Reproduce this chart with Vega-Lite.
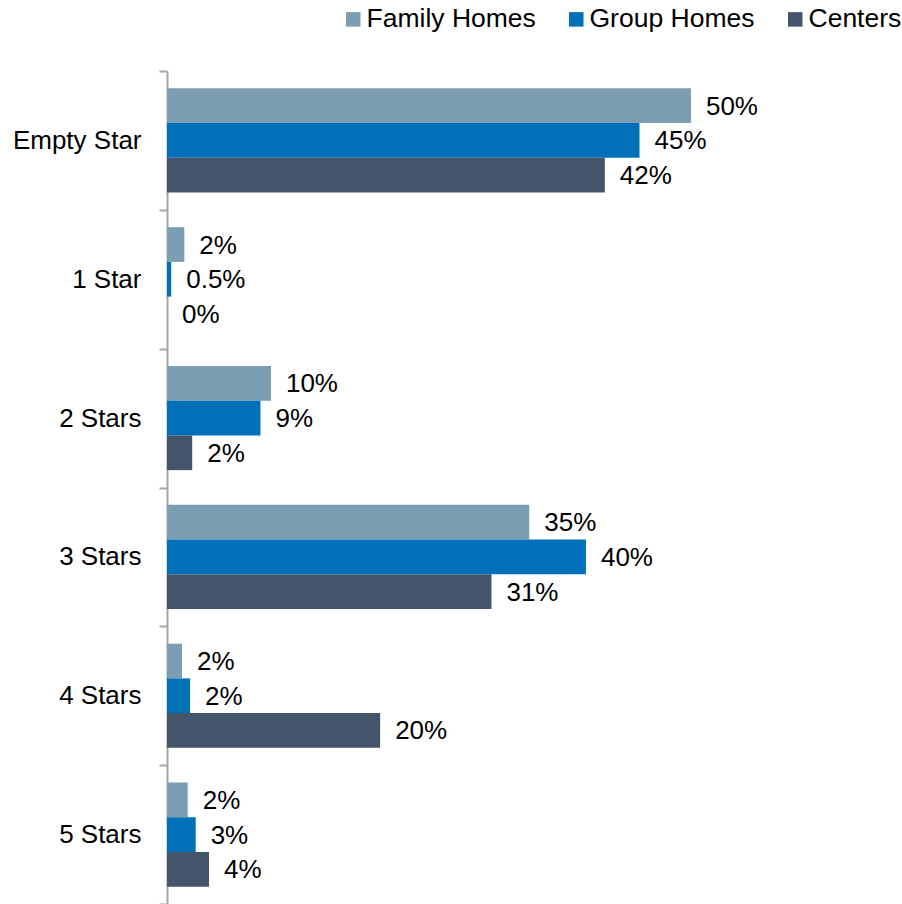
{
  "$schema": "https://vega.github.io/schema/vega-lite/v6.json",
  "autosize": {"type": "none"},
  "padding": {"left": 167, "top": 71, "right": 0, "bottom": 0},
  "width": 735,
  "height": 833,
  "background": "white",
  "config": {
    "view": {"stroke": null},
    "font": "Liberation Sans"
  },
  "data": {
    "values": [
      {"rating": "Empty Star", "type": "Family Homes", "value": 49.9, "label": "50%"},
      {"rating": "Empty Star", "type": "Group Homes", "value": 45.0, "label": "45%"},
      {"rating": "Empty Star", "type": "Centers", "value": 41.7, "label": "42%"},
      {"rating": "1 Star", "type": "Family Homes", "value": 1.65, "label": "2%"},
      {"rating": "1 Star", "type": "Group Homes", "value": 0.4, "label": "0.5%"},
      {"rating": "1 Star", "type": "Centers", "value": 0, "label": "0%"},
      {"rating": "2 Stars", "type": "Family Homes", "value": 9.9, "label": "10%"},
      {"rating": "2 Stars", "type": "Group Homes", "value": 8.9, "label": "9%"},
      {"rating": "2 Stars", "type": "Centers", "value": 2.4, "label": "2%"},
      {"rating": "3 Stars", "type": "Family Homes", "value": 34.5, "label": "35%"},
      {"rating": "3 Stars", "type": "Group Homes", "value": 39.9, "label": "40%"},
      {"rating": "3 Stars", "type": "Centers", "value": 30.9, "label": "31%"},
      {"rating": "4 Stars", "type": "Family Homes", "value": 1.43, "label": "2%"},
      {"rating": "4 Stars", "type": "Group Homes", "value": 2.2, "label": "2%"},
      {"rating": "4 Stars", "type": "Centers", "value": 20.3, "label": "20%"},
      {"rating": "5 Stars", "type": "Family Homes", "value": 1.97, "label": "2%"},
      {"rating": "5 Stars", "type": "Group Homes", "value": 2.73, "label": "3%"},
      {"rating": "5 Stars", "type": "Centers", "value": 4.0, "label": "4%"}
    ]
  },
  "encoding": {
    "y": {
      "field": "rating",
      "type": "nominal",
      "sort": ["Empty Star", "1 Star", "2 Stars", "3 Stars", "4 Stars", "5 Stars"],
      "scale": {"paddingInner": 0, "paddingOuter": 0},
      "axis": {
        "title": null,
        "tickBand": "extent",
        "domainColor": "#A6A6A6",
        "domainWidth": 2,
        "tickColor": "#A6A6A6",
        "tickWidth": 2,
        "tickSize": 8,
        "labelPadding": 18,
        "labelFontSize": 26,
        "labelColor": "#000000",
        "labelFont": "Liberation Sans",
        "labelLimit": 300
      }
    },
    "yOffset": {
      "field": "type",
      "type": "nominal",
      "sort": ["Family Homes", "Group Homes", "Centers"],
      "scale": {"paddingInner": 0, "paddingOuter": 0.5}
    },
    "x": {
      "field": "value",
      "type": "quantitative",
      "scale": {"domain": [0, 70], "nice": false, "zero": true},
      "axis": null
    }
  },
  "layer": [
    {
      "mark": {"type": "bar", "cornerRadius": 0},
      "encoding": {
        "color": {
          "field": "type",
          "type": "nominal",
          "sort": ["Family Homes", "Group Homes", "Centers"],
          "scale": {
            "domain": ["Family Homes", "Group Homes", "Centers"],
            "range": ["#7B9EB3", "#0070B9", "#44546A"]
          },
          "legend": {
            "title": null,
            "orient": "none",
            "direction": "horizontal",
            "legendX": 173,
            "legendY": -65,
            "symbolType": "square",
            "symbolSize": 210,
            "symbolStrokeWidth": 0,
            "symbolOpacity": 1,
            "labelFontSize": 26.5,
            "labelColor": "#000000",
            "labelFont": "Liberation Sans",
            "labelLimit": 400,
            "labelOffset": 0,
            "columnPadding": 27
          }
        }
      }
    },
    {
      "mark": {
        "type": "text",
        "align": "left",
        "baseline": "middle",
        "dx": 15,
        "dy": 1,
        "fontSize": 26,
        "color": "#000000",
        "font": "Liberation Sans"
      },
      "encoding": {
        "text": {"field": "label", "type": "nominal"}
      }
    }
  ]
}
